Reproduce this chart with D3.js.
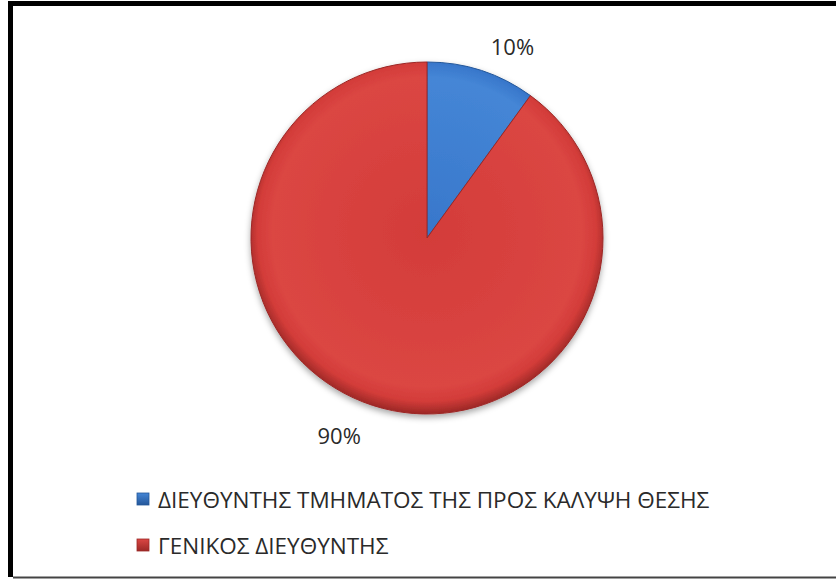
<!DOCTYPE html>
<html>
<head>
<meta charset="utf-8">
<script src="https://cdn.jsdelivr.net/npm/d3@7"></script>
<style>
  html, body { margin: 0; padding: 0; background: #fff; }
  svg { display: block; }
</style>
</head>
<body>
<div id="chart"></div>
<script>
document.addEventListener("DOMContentLoaded", function () {
    const width = 836;
    const height = 579;

    // Data
    const categories = ["ΔΙΕΥΘΥΝΤΗΣ ΤΜΗΜΑΤΟΣ ΤΗΣ ΠΡΟΣ ΚΑΛΥΨΗ ΘΕΣΗΣ", "ΓΕΝΙΚΟΣ ΔΙΕΥΘΥΝΤΗΣ"];
    const values = [10, 90];
    const labels = ["10%", "90%"];

    const colors = [
        { base: "#3877cb", light: "#4586d6", dark: "#24579a" },
        { base: "#d33c39", light: "#db4643", dark: "#9c2826" }
    ];

    const data = categories.map((c, i) => ({ name: c, value: values[i], label: labels[i], color: colors[i] }));

    const svg = d3.select("#chart")
        .append("svg")
        .attr("width", width)
        .attr("height", height);

    const defs = svg.append("defs");

    // gradients for the bevel look
    data.forEach((d, i) => {
        const g = defs.append("radialGradient")
            .attr("id", "grad" + i)
            .attr("gradientUnits", "userSpaceOnUse")
            .attr("cx", 0).attr("cy", -6).attr("r", 182);
        g.append("stop").attr("offset", "0%").attr("stop-color", d.color.base);
        g.append("stop").attr("offset", "85%").attr("stop-color", d.color.light);
        g.append("stop").attr("offset", "93%").attr("stop-color", d.color.base);
        g.append("stop").attr("offset", "100%").attr("stop-color", d.color.dark);

        const lg = defs.append("linearGradient")
            .attr("id", "leg" + i)
            .attr("x1", 0).attr("y1", 0).attr("x2", 0).attr("y2", 1);
        lg.append("stop").attr("offset", "0%").attr("stop-color", d.color.light);
        lg.append("stop").attr("offset", "100%").attr("stop-color", d.color.dark);
    });

    const shadow = defs.append("filter")
        .attr("id", "shadow")
        .attr("x", "-20%").attr("y", "-20%")
        .attr("width", "140%").attr("height", "140%");
    shadow.append("feDropShadow")
        .attr("dx", 0).attr("dy", 3)
        .attr("stdDeviation", 3)
        .attr("flood-color", "#000")
        .attr("flood-opacity", 0.35);

    // frame: heavy top and left edges, thin bottom edge
    svg.append("line")
        .attr("x1", 8).attr("x2", width)
        .attr("y1", 3.5).attr("y2", 3.5)
        .attr("stroke", "#000").attr("stroke-width", 5);
    svg.append("line")
        .attr("x1", 10.5).attr("x2", 10.5)
        .attr("y1", 1).attr("y2", height - 2)
        .attr("stroke", "#000").attr("stroke-width", 5);
    svg.append("line")
        .attr("x1", 13).attr("x2", width)
        .attr("y1", height - 1.5).attr("y2", height - 1.5)
        .attr("stroke", "#444").attr("stroke-width", 2);

    const radius = 176;
    const cx = 427, cy = 238;

    const pie = d3.pie()
        .value(d => d.value)
        .sort(null);

    const arc = d3.arc()
        .innerRadius(0)
        .outerRadius(radius);

    const g = svg.append("g")
        .attr("transform", `translate(${cx},${cy})`);

    const arcs = pie(data);

    g.append("g")
        .attr("filter", "url(#shadow)")
        .selectAll("path")
        .data(arcs)
        .enter()
        .append("path")
        .attr("d", arc)
        .attr("fill", (d, i) => `url(#grad${i})`)
        .attr("stroke", d => d.data.color.dark)
        .attr("stroke-width", 1)
        .attr("stroke-linejoin", "round");

    // labels outside the pie
    const labelShift = 6 * Math.PI / 180;
    const labelRadius = [210, 216];
    g.selectAll(".lbl")
        .data(arcs)
        .enter()
        .append("text")
        .attr("class", "lbl")
        .attr("x", (d, i) => Math.sin((d.startAngle + d.endAngle) / 2 + labelShift) * labelRadius[i])
        .attr("y", (d, i) => -Math.cos((d.startAngle + d.endAngle) / 2 + labelShift) * labelRadius[i])
        .attr("text-anchor", "middle")
        .attr("dominant-baseline", "central")
        .attr("font-family", "'Open Sans', sans-serif")
        .attr("font-size", 22)
        .attr("fill", "#2a2a2a")
        .text(d => d.data.label);

    // legend
    const legend = svg.append("g")
        .attr("transform", "translate(137,493)");

    const item = legend.selectAll(".item")
        .data(data)
        .enter()
        .append("g")
        .attr("class", "item")
        .attr("transform", (d, i) => `translate(0,${i * 46})`);

    item.append("rect")
        .attr("width", 12).attr("height", 12)
        .attr("fill", (d, i) => `url(#leg${i})`)
        .attr("stroke", d => d.color.dark)
        .attr("stroke-width", 0.8);

    item.append("text")
        .attr("x", 21)
        .attr("y", 6)
        .attr("dominant-baseline", "central")
        .attr("font-family", "'Open Sans', sans-serif")
        .attr("font-size", 22.5)
        .attr("fill", "#2a2a2a")
        .text(d => d.name);
});
</script>
</body>
</html>
